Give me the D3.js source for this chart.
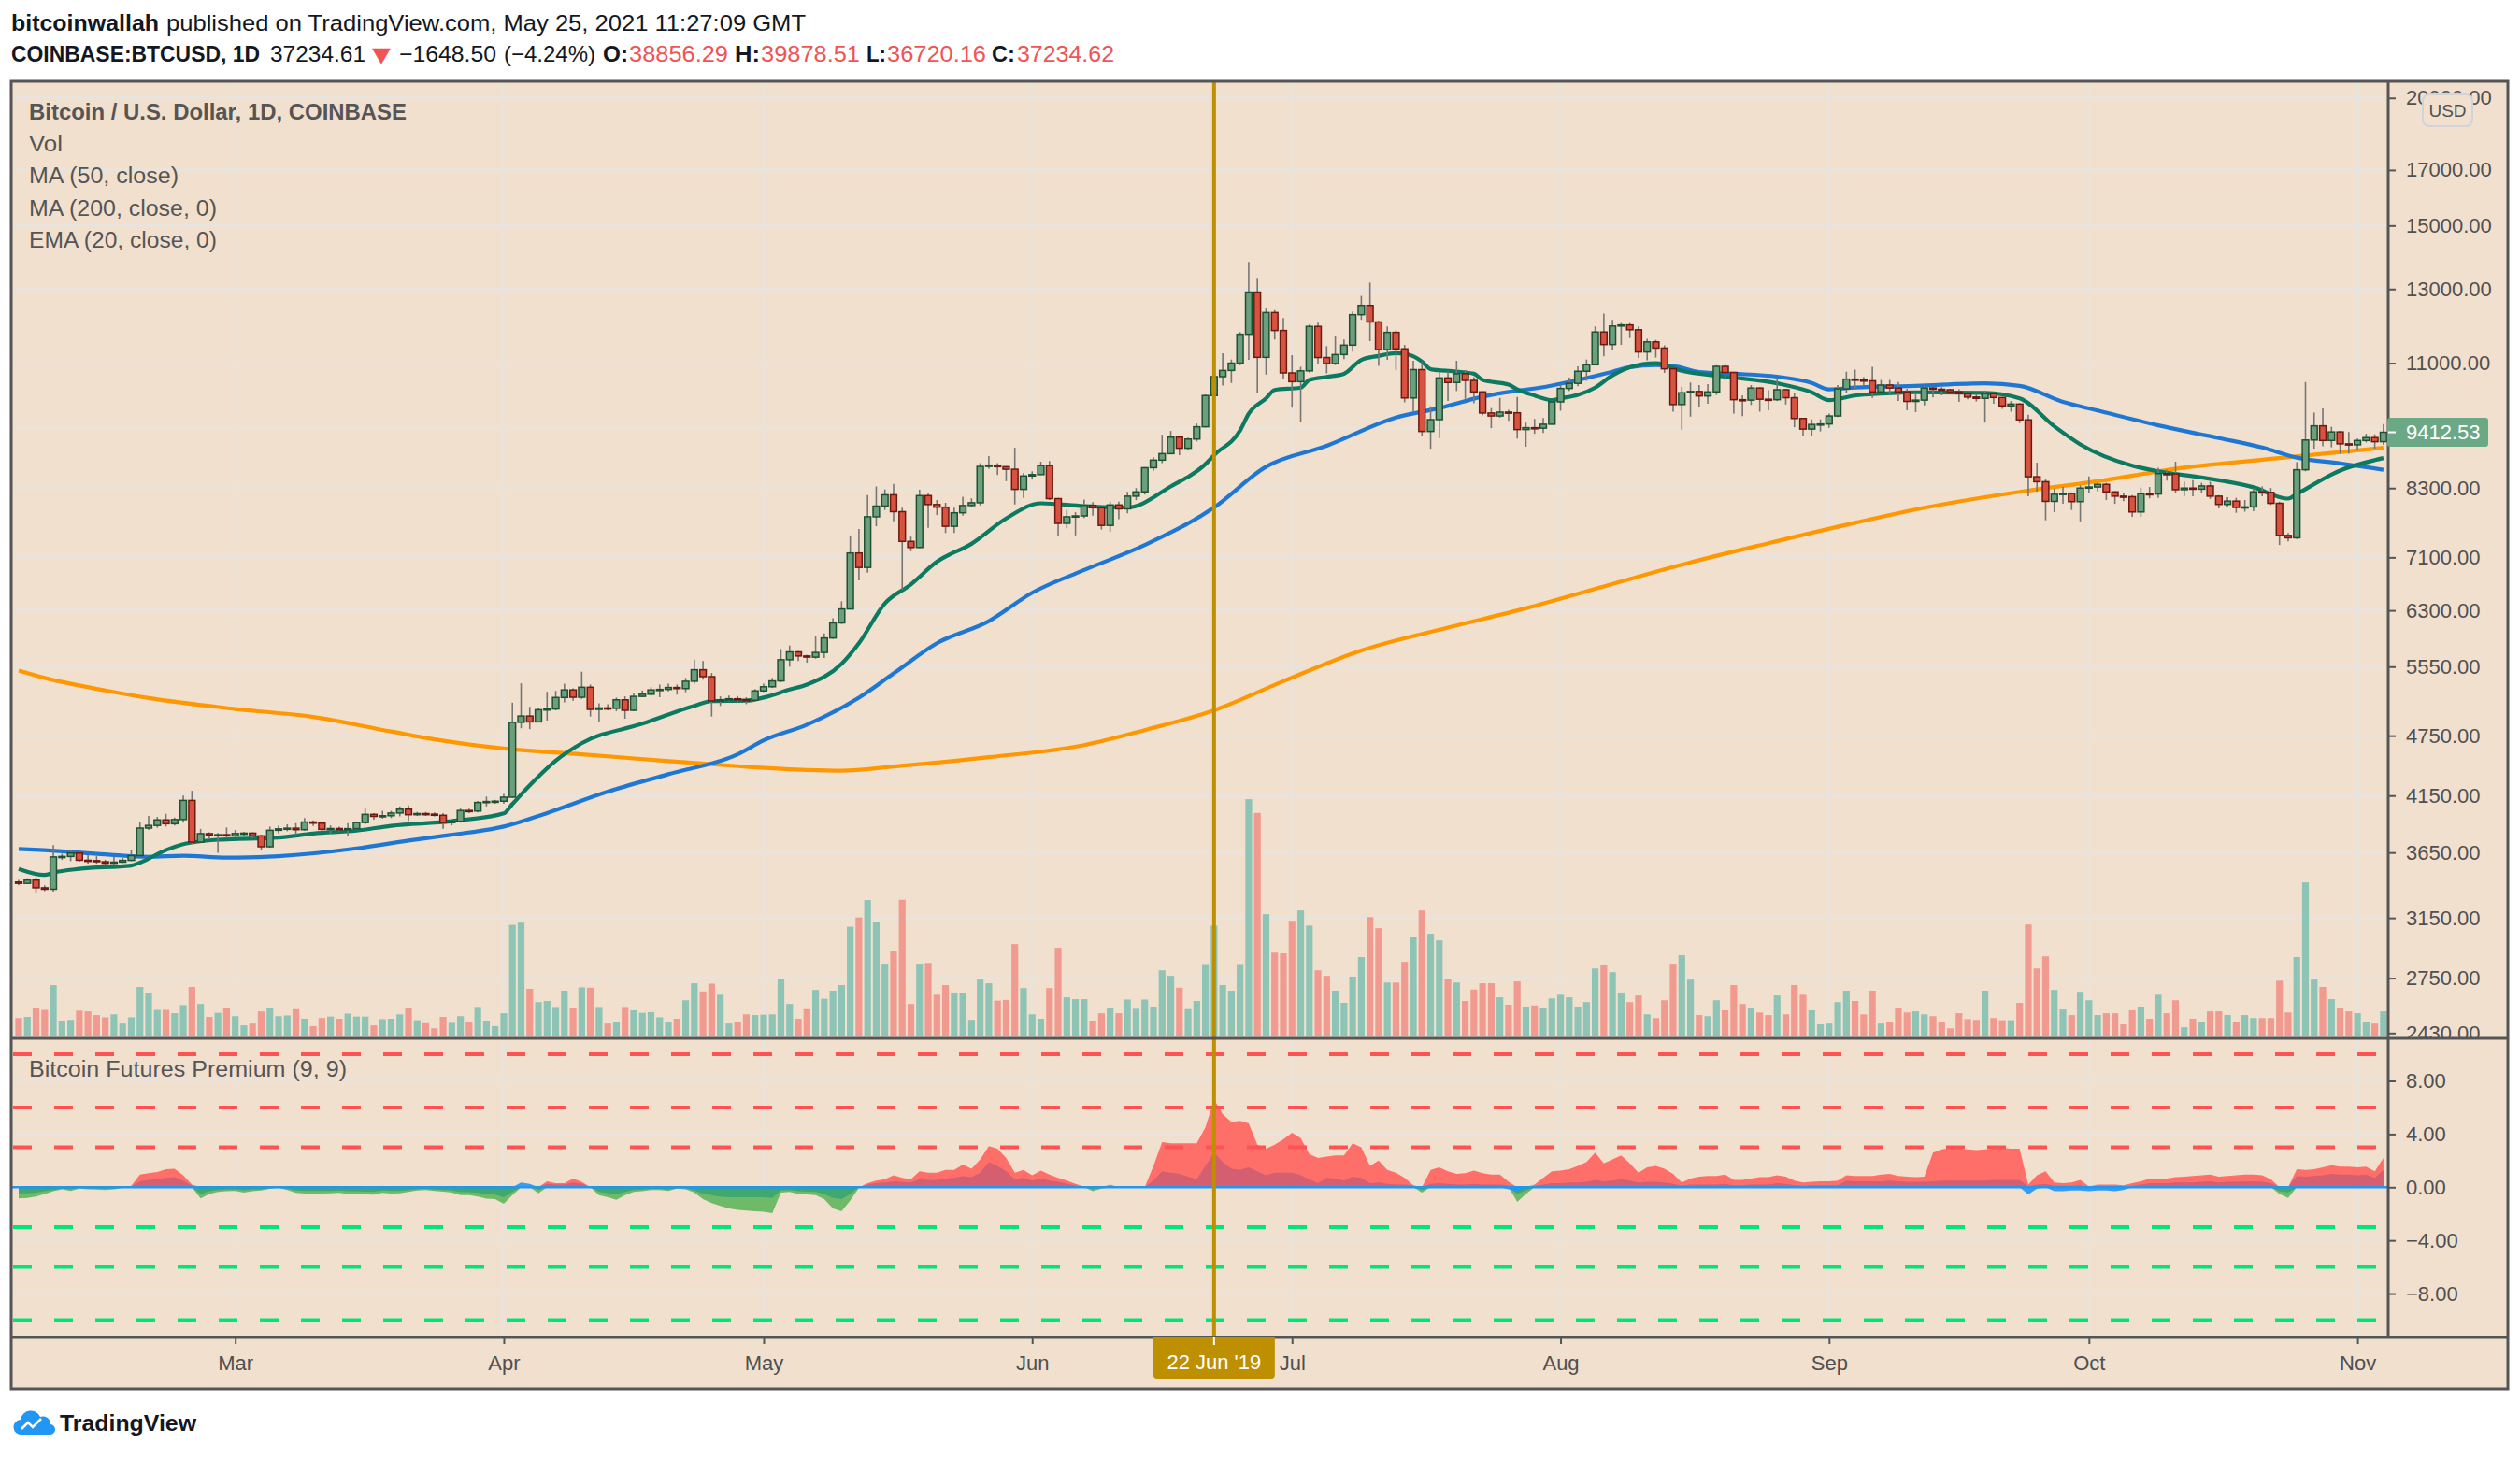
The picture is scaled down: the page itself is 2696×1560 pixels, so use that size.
<!DOCTYPE html>
<html><head><meta charset="utf-8">
<script src="https://cdn.jsdelivr.net/npm/d3@7"></script>
<style>html,body{margin:0;padding:0;background:#fff;}svg{display:block;}</style>
</head><body>
<svg id="chart" width="2696" height="1560"></svg>
<script>
// ---------------- DATA (BTC/USD daily, Coinbase, 4 Feb 2019 -> 4 Nov 2019) ----------------
const startDay = "2019-02-04";
const open = [3415,3405,3430,3371,3360,3614,3618,3646,3587,3584,
3575,3563,3572,3586,3625,3857,3880,3929,3895,3932,
4105,3737,3809,3795,3800,3790,3810,3813,3790,3698,
3838,3850,3856,3843,3910,3900,3846,3853,3848,3852,
3905,3978,3960,3966,3990,4025,3975,3985,3980,3970,
3905,3916,4013,4008,4086,4095,4098,4135,4895,4965,
4900,5036,5045,5177,5266,5180,5298,5040,5057,5052,
5150,5030,5190,5215,5266,5272,5295,5282,5370,5511,
5426,5138,5150,5162,5152,5145,5255,5304,5374,5637,
5737,5685,5670,5730,5920,6125,6320,7170,6940,7780,
7970,8175,7870,7360,7260,8160,7998,7950,7615,7850,
7980,8030,8715,8740,8710,8660,8276,8530,8556,8732,
8105,7665,7780,7795,7983,7940,7630,7990,7920,8150,
8230,8690,8840,8970,9310,9080,9270,9530,10225,10670,
10820,11000,11740,12910,11145,12330,11840,10760,10550,10810,
11950,11140,10990,11215,11455,12270,12530,12070,11340,11790,
11360,10170,10840,9430,9685,10640,10530,10740,10580,10310,
9830,9765,9850,9835,9470,9510,9500,9585,10080,10390,
10510,10800,10960,11800,11470,11960,11990,11860,11280,11540,
11380,10860,10020,10290,10320,10215,10310,10920,10770,10130,
10120,10400,10140,10130,10360,10175,9710,9480,9580,9590,
9765,10380,10610,10590,10570,10310,10470,10400,10310,10090,
10120,10400,10370,10360,10310,10270,10190,10160,10270,10180,
9990,10030,9680,8515,8420,8055,8185,8200,8050,8300,
8320,8370,8230,8150,8140,7865,8195,8190,8575,8570,
8270,8300,8280,8340,8150,8000,8060,7945,7955,8230,
8220,8020,7460,7420,8650,9250,9550,9240,9420,9170,
9150,9240,9300,9215];
const high = [3432,3445,3450,3390,3711,3640,3668,3660,3630,3620,
3590,3615,3605,3670,3908,3964,3955,3983,3950,4150,
4195,3850,3820,3815,3862,3840,3825,3820,3800,3870,
3880,3890,3900,3945,3925,3910,3880,3870,3900,3915,
4037,3990,4010,4010,4050,4060,4000,4000,3995,3990,
3925,4030,4030,4100,4140,4110,4165,5117,5345,5070,
5060,5244,5255,5340,5285,5487,5330,5110,5100,5175,
5190,5230,5260,5300,5330,5340,5330,5410,5640,5620,
5470,5190,5200,5195,5180,5275,5340,5410,5775,5820,
5750,5700,5940,5980,6190,6430,7460,7570,8170,8330,
8275,8380,7940,7440,8270,8200,8080,8030,7940,8140,
8110,8780,8920,8780,8720,9090,8590,8620,8810,8820,
8120,7900,7860,8090,8040,7950,8050,8050,8230,8300,
8700,8900,9360,9440,9320,9300,9600,10250,11200,11250,
11090,11800,13820,13330,12440,12400,12180,11200,10910,12000,
12050,11430,11700,11600,12360,12800,13190,12100,11950,11840,
11460,11060,11030,9980,10780,10800,11060,10830,10660,10330,
9940,10170,9900,10190,9620,9700,9720,10110,10490,10650,
10920,11090,11950,12300,12130,12040,12040,11950,11620,11590,
11450,10870,10430,10530,10470,10490,10950,10960,10780,10230,
10470,10420,10350,10640,10380,10280,9720,9690,9690,9820,
10470,10790,10840,10660,10910,10590,10590,10540,10380,10300,
10450,10440,10420,10380,10370,10290,10260,10340,10290,10190,
10100,10050,9790,8790,8460,8290,8320,8220,8350,8520,
8400,8400,8240,8200,8170,8310,8320,8690,8650,8810,
8420,8450,8400,8420,8170,8130,8120,8080,8300,8330,
8300,8050,7500,8800,10540,9840,9930,9530,9440,9420,
9280,9380,9370,9590];
const low = [3390,3400,3336,3345,3343,3590,3580,3575,3560,3560,
3545,3555,3565,3580,3615,3840,3860,3870,3880,3905,
3720,3730,3760,3648,3770,3780,3785,3770,3670,3690,
3810,3830,3800,3835,3875,3830,3810,3830,3790,3840,
3890,3930,3940,3945,3960,3920,3965,3965,3960,3850,
3880,3905,3990,3995,4050,4075,4075,4130,4830,4820,
4895,4915,5030,5120,5140,5160,4960,4903,5030,5020,
4935,5020,5180,5200,5180,5250,5210,5240,5340,5390,
4960,5080,5130,5120,5100,5130,5240,5290,5360,5550,
5620,5600,5650,5660,5910,6110,6320,6740,6860,7615,
7900,7700,6600,7200,7250,7590,7810,7500,7500,7800,
7960,7980,8670,8550,8430,8000,8120,8460,8550,8080,
7450,7580,7460,7760,7800,7560,7520,7740,7840,8080,
8180,8630,8780,8960,8940,9050,9220,9520,10060,10460,
10520,10950,11080,10280,10720,11600,10620,9950,9640,10770,
10990,10750,10950,11100,11290,12130,11560,10930,11080,10830,
10070,9870,9340,9070,9290,10100,10330,10150,10050,9780,
9500,9730,9660,9280,9110,9380,9400,9580,9880,10330,
10440,10570,10950,11170,11340,11460,11640,11130,11070,11140,
10760,9860,9470,9750,9970,10040,10240,10590,9820,9760,
10010,9860,9890,10100,10020,9520,9330,9340,9430,9510,
9740,10280,10360,10450,10170,10290,10240,10100,9890,9850,
10000,10180,10230,10270,10080,10140,10090,9620,10040,9920,
9860,9610,8150,8230,7720,7860,8010,7900,7700,8200,
8240,8080,8010,8060,7780,7780,8110,8120,8440,8210,
8150,8150,8210,8100,7930,7950,7850,7870,7880,8150,
7990,7300,7360,7400,8620,9070,9120,9100,8970,8970,
9050,9200,9070,9150];
const close = [3405,3430,3371,3360,3614,3618,3646,3587,3584,3575,
3563,3572,3586,3625,3857,3880,3929,3895,3932,4105,
3737,3809,3795,3800,3790,3810,3813,3790,3698,3838,
3850,3856,3843,3910,3900,3846,3853,3848,3852,3905,
3978,3960,3966,3990,4025,3975,3985,3980,3970,3905,
3916,4013,4008,4086,4095,4098,4135,4895,4965,4900,
5036,5045,5177,5266,5180,5298,5040,5057,5052,5150,
5030,5190,5215,5266,5272,5295,5282,5370,5511,5426,
5138,5150,5162,5152,5145,5255,5304,5374,5637,5737,
5685,5670,5730,5920,6125,6320,7170,6940,7780,7970,
8175,7870,7360,7260,8160,7998,7950,7615,7850,7980,
8030,8715,8740,8710,8660,8276,8530,8556,8732,8105,
7665,7780,7795,7983,7940,7630,7990,7920,8150,8230,
8690,8840,8970,9310,9080,9270,9530,10225,10670,10820,
11000,11740,12910,11145,12330,11840,10760,10550,10810,11950,
11140,10990,11215,11455,12270,12530,12070,11340,11790,11360,
10170,10840,9430,9685,10640,10530,10740,10580,10310,9830,
9765,9850,9835,9470,9510,9500,9585,10080,10390,10510,
10800,10960,11800,11470,11960,11990,11860,11280,11540,11380,
10860,10020,10290,10320,10215,10310,10920,10770,10130,10120,
10400,10140,10130,10360,10175,9710,9480,9580,9590,9765,
10380,10610,10590,10570,10310,10470,10400,10310,10090,10120,
10400,10370,10360,10310,10270,10190,10160,10270,10180,9990,
10030,9680,8515,8420,8055,8185,8200,8050,8300,8320,
8370,8230,8150,8140,7865,8195,8190,8575,8570,8270,
8300,8280,8340,8150,8000,8060,7945,7955,8230,8220,
8020,7460,7420,8650,9250,9550,9240,9420,9170,9150,
9240,9300,9215,9412.53];
// volume (thousand BTC)
const volume = [5.0,5.3,7.8,7.2,13.9,4.3,4.5,7.0,6.8,5.8,
5.2,6.0,3.5,5.2,13.4,11.8,7.2,7.2,6.3,8.5,
13.4,8.8,5.3,6.4,7.8,5.5,3.0,3.5,6.8,7.6,
5.5,5.7,7.4,4.8,2.8,5.0,5.4,4.8,6.2,5.4,
5.4,3.0,4.7,4.8,6.0,7.6,4.4,3.6,2.2,5.3,
3.7,5.5,3.9,8.0,4.3,2.8,6.3,30.2,30.8,12.9,
9.3,9.6,8.0,12.4,7.8,13.3,13.2,8.0,3.5,3.8,
8.0,7.1,6.4,6.6,5.2,4.0,4.8,9.8,14.4,12.2,
14.3,11.3,3.5,4.0,6.0,5.8,5.9,6.0,15.6,8.8,
4.8,7.4,12.6,10.2,12.4,13.9,29.7,32.2,36.9,31.1,
19.7,23.2,37.0,8.8,19.7,19.9,11.3,13.9,11.9,11.7,
4.5,15.4,14.4,9.7,9.9,25.0,13.1,6.0,4.8,13.1,
24.0,10.6,10.1,10.1,4.3,6.3,7.8,6.3,10.0,7.5,
10.0,8.1,17.9,16.4,13.2,7.4,9.6,19.6,30.0,13.9,
12.4,19.6,64.2,60.5,33.1,22.7,22.5,31.3,34.1,30.0,
17.9,16.4,12.4,9.1,16.2,21.5,32.3,29.3,14.6,14.6,
20.2,26.8,34.1,27.8,26.0,15.6,14.6,9.6,12.7,14.4,
14.4,10.6,8.6,14.9,8.1,8.4,7.7,10.3,11.3,10.6,
8.1,9.3,18.4,19.4,17.4,11.9,9.3,11.1,6.0,5.0,
9.8,19.7,22.0,15.4,5.8,5.5,9.8,7.1,13.9,8.8,
7.6,6.5,5.8,11.1,6.0,13.9,11.3,7.1,3.3,3.5,
9.3,12.4,9.6,6.0,12.4,3.5,4.0,7.8,6.5,6.8,
6.0,5.5,3.8,2.2,6.3,4.7,4.5,12.4,5.0,4.4,
4.4,9.1,30.3,18.4,21.7,12.6,7.3,5.8,12.1,9.8,
5.8,6.3,6.3,3.3,7.1,8.1,4.8,11.3,6.3,9.8,
2.5,4.8,3.8,6.8,6.8,5.8,4.0,5.8,5.0,5.0,
5.0,15.1,6.5,21.5,41.7,15.4,13.4,10.1,7.8,6.8,
6.3,3.8,3.5,6.8];
// moving averages (day index -> value)
const ma200Idx = [0,3,10,15,25,34,43,48,56,65,75,83,91,95,101,112,123,130,138,146,155,165,174,183,193,202,212,220,231,240,250,261,273];
const ma200Val = [5500,5410,5260,5170,5045,4955,4795,4710,4615,4555,4486,4435,4397,4390,4431,4525,4650,4810,5030,5370,5755,6060,6330,6650,7020,7330,7675,7940,8230,8430,8690,8880,9090];
const ma50Idx = [0,3,10,15,19,24,30,39,45,50,56,61,68,75,83,86,91,97,101,106,112,117,123,130,138,144,151,159,164,169,177,184,186,189,191,194,198,203,207,209,212,219,227,231,236,240,247,254,259,263,268,273];
const ma50Val = [3680,3670,3635,3615,3624,3608,3620,3684,3750,3800,3870,3990,4187,4355,4555,4700,4870,5175,5465,5850,6150,6555,6900,7300,7945,8710,9130,9730,9940,10200,10460,10790,10900,10950,10930,10780,10740,10670,10520,10370,10410,10450,10510,10450,10080,9885,9560,9290,9095,8890,8775,8650];
const emaIdx = [0,3,4,7,13,14,17,19,20,23,30,34,39,43,50,56,57,59,62,65,72,78,80,84,86,89,91,95,97,100,103,106,110,114,118,123,128,133,137,138,141,142,144,145,148,149,151,153,155,157,159,160,162,163,166,168,169,172,173,175,177,178,180,182,184,186,189,192,197,203,207,209,212,215,219,227,231,235,238,244,247,252,258,262,263,268,273];
const emaVal = [3518,3470,3488,3518,3545,3568,3670,3720,3733,3757,3775,3810,3835,3877,3918,3987,4072,4247,4490,4670,4880,5080,5135,5140,5176,5270,5330,5585,5850,6400,6680,7030,7320,7750,8020,7970,7945,8330,8760,8940,9450,9815,10160,10355,10410,10590,10665,10740,11080,11180,11250,11235,11040,10850,10795,10740,10590,10480,10370,10225,10120,10160,10240,10410,10700,10900,11000,10810,10670,10510,10300,10120,10225,10270,10300,10285,10160,9540,9160,8730,8620,8500,8315,8105,8190,8635,8880];
// Bitcoin Futures Premium (9, 9): two plotted series + small blue segments
const premA = [-0.84,-0.8,-0.7,-0.5,-0.3,-0.15,-0.28,-0.1,-0.15,-0.18,
-0.2,-0.15,-0.05,0.1,0.95,1.05,1.15,1.35,1.4,0.9,
0.2,-0.84,-0.5,-0.35,-0.3,-0.28,-0.4,-0.3,-0.25,-0.12,
-0.05,-0.2,-0.42,-0.47,-0.47,-0.47,-0.45,-0.42,-0.5,-0.5,
-0.55,-0.56,-0.42,-0.47,-0.45,-0.35,-0.25,-0.2,-0.28,-0.33,
-0.4,-0.6,-0.6,-0.7,-0.85,-0.9,-1.25,-0.6,0,0,
-0.45,0.45,0.3,0.3,0.65,0.4,0,-0.6,-0.75,-0.95,
-0.6,-0.35,-0.3,-0.2,-0.2,-0.28,-0.1,-0.15,-0.4,-0.9,
-1.2,-1.4,-1.6,-1.7,-1.75,-1.8,-1.85,-1.95,-0.4,-0.35,
-0.5,-0.55,-0.6,-0.9,-1.6,-1.8,-1.0,-0.05,0.3,0.5,
0.6,0.9,0.7,0.6,1.2,1.1,1.1,1.3,1.3,1.7,
1.4,2.1,3.1,2.9,2.2,1.1,1.3,0.9,1.25,0.95,
0.7,0.5,0.25,0.05,-0.3,-0.1,0.2,-0.05,-0.05,0,
0,1.6,3.4,3.3,3.3,3.3,3.3,4.5,6.6,5.5,
4.9,5.0,4.8,3.2,2.9,3.2,3.6,4.1,3.7,2.5,
2.2,2.3,2.4,2.4,3.3,3.0,1.6,2.0,1.3,1.1,
0.7,0.15,-0.4,1.3,1.5,1.2,1.0,1.05,1.25,1.05,
0.95,0.95,0.4,-1.1,-0.5,0.2,0.7,1.2,1.25,1.35,
1.6,1.9,2.6,1.8,2.1,2.4,1.8,1.1,1.5,1.6,
1.4,1.0,0.35,0.65,0.8,0.85,0.85,0.95,0.55,0.55,
0.65,0.75,0.75,0.9,0.8,0.5,0.35,0.4,0.45,0.45,
0.5,0.9,0.85,0.85,0.85,0.95,1.0,0.85,0.8,0.75,
0.8,2.6,2.85,2.95,2.9,2.85,2.8,2.85,2.9,2.95,
2.9,2.9,0.2,0.9,1.2,0.35,0.3,0.35,0.55,0.05,
0.2,0.2,0.2,0.15,0.3,0.45,0.65,0.65,0.65,0.75,
0.8,0.85,0.9,0.95,0.8,0.85,0.9,0.95,0.95,0.9,
0.6,-0.5,-0.8,1.35,1.3,1.35,1.5,1.65,1.55,1.55,
1.5,1.55,1.2,2.2];
const premB = [-0.45,-0.45,-0.4,-0.3,-0.2,-0.1,-0.15,-0.05,-0.1,-0.1,
-0.12,-0.1,-0.03,0.05,0.45,0.55,0.6,0.7,0.75,0.5,
0.1,-0.5,-0.3,-0.2,-0.18,-0.15,-0.22,-0.18,-0.15,-0.07,
-0.03,-0.12,-0.25,-0.28,-0.28,-0.28,-0.27,-0.25,-0.3,-0.3,
-0.33,-0.33,-0.25,-0.28,-0.27,-0.2,-0.15,-0.12,-0.17,-0.2,
-0.24,-0.36,-0.36,-0.42,-0.5,-0.55,-0.75,-0.35,0,0,
-0.2,0.25,0.2,0.2,0.35,0.25,0,-0.35,-0.45,-0.55,
-0.35,-0.2,-0.18,-0.12,-0.12,-0.17,-0.06,-0.09,-0.25,-0.5,
-0.6,-0.7,-0.75,-0.75,-0.75,-0.75,-0.75,-0.8,-0.25,-0.2,
-0.3,-0.33,-0.35,-0.5,-0.8,-0.9,-0.5,0,0.2,0.3,
0.35,0.45,0.4,0.35,0.6,0.55,0.55,0.65,0.7,0.85,
0.75,1.1,1.9,1.6,1.2,0.6,0.7,0.5,0.65,0.5,
0.4,0.25,0.12,0,-0.15,-0.05,0.1,0,0,0,
0,0.5,1.2,1.1,1.0,0.8,0.6,1.6,2.6,1.9,
1.4,1.3,1.5,1.2,0.9,1.1,1.1,1.1,0.9,0.6,
0.3,0.7,0.65,0.5,0.8,0.7,0.3,0.35,0.25,0.2,
0.2,0.1,-0.2,0.25,0.3,0.25,0.2,0.2,0.25,0.2,
0.2,0.2,0.1,-0.5,-0.25,0.1,0.2,0.3,0.3,0.35,
0.35,0.4,0.55,0.45,0.5,0.6,0.5,0.35,0.4,0.4,
0.35,0.25,0.1,0.2,0.2,0.2,0.2,0.25,0.15,0.15,
0.2,0.2,0.2,0.3,0.25,0.15,0.1,0.15,0.15,0.15,
0.15,0.5,0.45,0.45,0.45,0.45,0.5,0.45,0.4,0.4,
0.4,0.45,0.5,0.5,0.5,0.5,0.5,0.5,0.55,0.55,
0.55,0.55,0.05,0.2,0.25,0.1,0.1,0.1,0.15,0,
0.05,0.05,0.05,0.05,0.1,0.2,0.3,0.3,0.3,0.35,
0.35,0.35,0.4,0.45,0.35,0.4,0.4,0.45,0.45,0.4,
0.3,-0.3,-0.4,0.85,0.8,0.85,0.9,1.0,0.95,0.95,
0.9,0.95,0.7,1.3];
const blueIdx = [58,59,78,172,173,232,233,235,236,237,238,239,240,241,242,243];
const blueVal = [0.35,0.25,-0.15,-0.15,-0.35,-0.55,-0.1,-0.3,-0.3,-0.25,-0.25,-0.3,-0.25,-0.25,-0.3,-0.2];
// axis ticks / levels
const priceTicks = [20000,17000,15000,13000,11000,9500,8300,7100,6300,5550,4750,4150,3650,3150,2750,2430];
const premTicks = [8,4,0,-4,-8];
const premUpper = [10,6,3];
const premLower = [-3,-6,-10];
const crosshairDay = "2019-06-22";
const crosshairLabel = "22 Jun '19";
const legendLines = ["Vol","MA (50, close)","MA (200, close, 0)","EMA (20, close, 0)"];

// ---------------- LAYOUT ----------------
const W = 2696, H = 1560;
const FL = 12, FR = 2683, FT = 87, FB = 1486, AX = 2555, PB = 1111, LB = 1431, VB = 1109;
const FONT = "'Liberation Sans', Arial, sans-serif";
const C = {
  bg: "#f2e0cf", grid: "#e7e3df", frame: "#555555", text: "#505050",
  upFill: "#6b9f7e", upLine: "#1e5134", dnFill: "#d8523f", dnLine: "#6b1a12", wick: "#767676",
  volUp: "#8dc4b5", volDn: "#f19a8f",
  ema: "#0b7a60", ma50: "#1f77d4", ma200: "#ff9800",
  premUp: "#ff6f69", premDn: "#6fba68", premUp2: "#d35f70", premDn2: "#3fa772", blue: "#2196f3",
  dashR: "#ff5252", dashG: "#00e676", cross: "#be8f00", last: "#6ba886",
  head: "#131722", red: "#f05454"
};

const parse = d3.utcParse("%Y-%m-%d");
const start = parse(startDay);
const n = close.length;
const dates = close.map((_, i) => d3.utcDay.offset(start, i));
const x = d3.scaleUtc().domain([start, dates[n - 1]]).range([20, 2549.9]);
const yP = d3.scaleLog().domain([2401, 20763]).range([PB, FT]);
const yV = d3.scaleLinear().domain([0, 100]).range([VB, VB - 395.4]);
const yL = d3.scaleLinear().domain([-11.3, 11.2]).range([LB, PB]);

const svg = d3.select("#chart");
const defs = svg.append("defs");
defs.append("clipPath").attr("id", "clipP").append("rect").attr("x", FL).attr("y", FT).attr("width", AX - FL).attr("height", PB - FT);
defs.append("clipPath").attr("id", "clipL").append("rect").attr("x", FL).attr("y", PB).attr("width", AX - FL).attr("height", LB - PB);
defs.append("clipPath").attr("id", "clipAx").append("rect").attr("x", AX).attr("y", FT).attr("width", FR - AX).attr("height", PB - FT);

svg.append("rect").attr("width", W).attr("height", H).attr("fill", "#ffffff");
svg.append("rect").attr("x", FL).attr("y", FT).attr("width", FR - FL).attr("height", FB - FT).attr("fill", C.bg);

// ---------------- GRID ----------------
const months = d3.utcMonth.range(d3.utcMonth.ceil(start), dates[n - 1]);
const grid = svg.append("g").attr("stroke", C.grid).attr("stroke-width", 2.5);
grid.selectAll("line.v").data(months).join("line")
  .attr("x1", d => x(d)).attr("x2", d => x(d)).attr("y1", FT).attr("y2", LB);
grid.selectAll("line.hp").data(priceTicks).join("line")
  .attr("x1", FL).attr("x2", AX).attr("y1", d => yP(d)).attr("y2", d => yP(d));
grid.selectAll("line.hl").data(premTicks).join("line")
  .attr("x1", FL).attr("x2", AX).attr("y1", d => yL(d)).attr("y2", d => yL(d));

// ---------------- PRICE PANE ----------------
const pp = svg.append("g").attr("clip-path", "url(#clipP)");
const bw = 7.2;
pp.append("g").selectAll("rect").data(d3.range(n)).join("rect")
  .attr("x", i => x(dates[i]) - bw / 2).attr("width", bw)
  .attr("y", i => yV(volume[i])).attr("height", i => VB - yV(volume[i]))
  .attr("fill", i => close[i] >= open[i] ? C.volUp : C.volDn);

function maLine(idx, val, color) {
  const pts = idx.map((d, k) => [x(dates[d]), yP(val[k])]);
  pp.append("path").attr("d", d3.line().curve(d3.curveMonotoneX)(pts))
    .attr("fill", "none").attr("stroke", color).attr("stroke-width", 4.2).attr("stroke-linejoin", "round");
}
maLine(ma200Idx, ma200Val, C.ma200);
maLine(ma50Idx, ma50Val, C.ma50);
maLine(emaIdx, emaVal, C.ema);

const cg = pp.append("g");
cg.selectAll("line").data(d3.range(n)).join("line")
  .attr("x1", i => x(dates[i])).attr("x2", i => x(dates[i]))
  .attr("y1", i => yP(high[i])).attr("y2", i => yP(low[i]))
  .attr("stroke", C.wick).attr("stroke-width", 1.6);
cg.selectAll("rect").data(d3.range(n)).join("rect")
  .attr("x", i => x(dates[i]) - 3.4).attr("width", 6.8)
  .attr("y", i => yP(Math.max(open[i], close[i])))
  .attr("height", i => Math.max(1.2, yP(Math.min(open[i], close[i])) - yP(Math.max(open[i], close[i]))))
  .attr("fill", i => close[i] >= open[i] ? C.upFill : C.dnFill)
  .attr("stroke", i => close[i] >= open[i] ? C.upLine : C.dnLine)
  .attr("stroke-width", 1.5);

// ---------------- PREMIUM PANE ----------------
const lp = svg.append("g").attr("clip-path", "url(#clipL)");
function signedArea(vals, pos, neg) {
  const ptsPos = vals.map((v, i) => [x(dates[i]), yL(Math.max(v, 0))]);
  const ptsNeg = vals.map((v, i) => [x(dates[i]), yL(Math.min(v, 0))]);
  const a = d3.area().x(d => d[0]).y0(yL(0)).y1(d => d[1]);
  lp.append("path").attr("d", a(ptsPos)).attr("fill", pos);
  lp.append("path").attr("d", a(ptsNeg)).attr("fill", neg);
}
signedArea(premA, C.premUp, C.premDn);
signedArea(premB, C.premUp2, C.premDn2);
// blue segments
const runs = [];
blueIdx.forEach((d, k) => {
  const last = runs[runs.length - 1];
  if (last && d === last[last.length - 1][0] + 1) last.push([d, blueVal[k]]);
  else runs.push([[d, blueVal[k]]]);
});
runs.forEach(r => {
  const pts = [[r[0][0] - 1, 0], ...r, [r[r.length - 1][0] + 1, 0]];
  lp.append("path").attr("d", d3.area().x(d => x(dates[Math.min(d[0], n - 1)])).y0(yL(0)).y1(d => yL(d[1]))(pts))
    .attr("fill", C.blue).attr("opacity", 0.9);
});
function dashLevel(v, color) {
  lp.append("line").attr("x1", FL + 2).attr("x2", AX).attr("y1", yL(v)).attr("y2", yL(v))
    .attr("stroke", color).attr("stroke-width", 4).attr("stroke-dasharray", "20,24");
}
premUpper.forEach(v => dashLevel(v, C.dashR));
premLower.forEach(v => dashLevel(v, C.dashG));
lp.append("line").attr("x1", FL).attr("x2", AX).attr("y1", yL(0)).attr("y2", yL(0))
  .attr("stroke", C.blue).attr("stroke-width", 2.6);

// ---------------- CROSSHAIR ----------------
const cx = x(parse(crosshairDay));
svg.append("line").attr("x1", cx).attr("x2", cx).attr("y1", FT).attr("y2", LB)
  .attr("stroke", C.cross).attr("stroke-width", 4);

// ---------------- AXES ----------------
const axPWrap = svg.append("g").attr("clip-path", "url(#clipAx)");
const axP = axPWrap.append("g").attr("transform", `translate(${AX},0)`)
  .call(d3.axisRight(yP).tickValues(priceTicks).tickFormat(d3.format(".2f")).tickSize(8).tickPadding(11));
const axL = svg.append("g").attr("transform", `translate(${AX},0)`)
  .call(d3.axisRight(yL).tickValues(premTicks).tickFormat(d3.format(".2f")).tickSize(8).tickPadding(11));
const axT = svg.append("g").attr("transform", `translate(0,${LB})`)
  .call(d3.axisBottom(x).tickValues(months).tickFormat(d3.utcFormat("%b")).tickSize(7).tickPadding(12));
[axP, axL, axT].forEach(g => {
  g.select(".domain").remove();
  g.selectAll(".tick line").attr("stroke", C.frame).attr("stroke-width", 2);
  g.selectAll(".tick text").attr("fill", C.text).attr("font-family", FONT).attr("font-size", 22);
});

// ---------------- FRAME ----------------
const fr = svg.append("g").attr("stroke", C.frame).attr("stroke-width", 3).attr("fill", "none");
fr.append("rect").attr("x", FL).attr("y", FT).attr("width", FR - FL).attr("height", FB - FT);
fr.append("line").attr("x1", AX).attr("x2", AX).attr("y1", FT).attr("y2", LB);
fr.append("line").attr("x1", FL).attr("x2", FR).attr("y1", PB).attr("y2", PB);
fr.append("line").attr("x1", FL).attr("x2", FR).attr("y1", LB).attr("y2", LB);

// ---------------- LABELS ON AXES ----------------
const lastClose = close[n - 1];
const ly = yP(lastClose);
svg.append("rect").attr("x", AX - 1).attr("y", ly - 15.5).attr("width", 108).attr("height", 31).attr("rx", 3)
  .attr("fill", C.last);
svg.append("line").attr("x1", AX).attr("x2", AX + 8).attr("y1", ly).attr("y2", ly).attr("stroke", "#ffffff").attr("stroke-width", 2);
svg.append("text").attr("x", AX + 19).attr("y", ly).attr("dy", "0.35em").attr("fill", "#ffffff")
  .attr("font-family", FONT).attr("font-size", 22).text(d3.format(".2f")(lastClose));
svg.append("rect").attr("x", 2592).attr("y", 101).attr("width", 53).attr("height", 34).attr("rx", 7)
  .attr("fill", C.bg).attr("stroke", "#cfd3da").attr("stroke-width", 2);
svg.append("text").attr("x", 2618.5).attr("y", 118).attr("dy", "0.35em").attr("text-anchor", "middle")
  .attr("fill", C.text).attr("font-family", FONT).attr("font-size", 19).text("USD");
svg.append("path").attr("d", `M${cx - 65},${LB} h130 v40 a4,4 0 0 1 -4,4 h-122 a4,4 0 0 1 -4,-4 z`).attr("fill", C.cross);
svg.append("line").attr("x1", cx).attr("x2", cx).attr("y1", LB).attr("y2", LB + 8).attr("stroke", "#ffffff").attr("stroke-width", 2);
svg.append("text").attr("x", cx).attr("y", LB + 34).attr("text-anchor", "middle").attr("fill", "#ffffff")
  .attr("font-family", FONT).attr("font-size", 22).text(crosshairLabel);

// ---------------- LEGENDS ----------------
function txt(s, xx, yy, opts) {
  const t = svg.append("text").attr("x", xx).attr("y", yy).text(s)
    .attr("font-family", opts.family || FONT).attr("font-size", opts.size || 23)
    .attr("font-weight", opts.bold ? 700 : 400).attr("fill", opts.color || C.text);
  if (opts.w) t.attr("textLength", opts.w).attr("lengthAdjust", "spacingAndGlyphs");
  return t;
}
txt("Bitcoin / U.S. Dollar, 1D, COINBASE", 31, 128, { bold: true, w: 404, color: "#555555" });
const lw = [36, 160, 201, 201];
legendLines.forEach((s, k) => txt(s, 31, 162 + k * 34.3, { w: lw[k], color: "#555555" }));
txt("Bitcoin Futures Premium (9, 9)", 31, 1152, { w: 340, color: "#555555" });

// ---------------- HEADER ----------------
txt("bitcoinwallah", 12, 33, { bold: true, size: 24, w: 158, color: C.head });
txt("published on TradingView.com, May 25, 2021 11:27:09 GMT", 178, 33, { size: 24, w: 684, color: C.head });
const seg = [
  ["COINBASE:BTCUSD, 1D", 12, 266, true, C.head],
  ["37234.61", 289, 102, false, C.head],
  ["\u2212" + "1648.50", 427, 104, false, C.head],
  ["(\u2212" + "4.24%)", 539, 98, false, C.head],
  ["O:", 645, 27, true, C.head], ["38856.29", 673, 106, false, C.red],
  ["H:", 786, 27, true, C.head], ["39878.51", 814, 106, false, C.red],
  ["L:", 927, 21, true, C.head], ["36720.16", 949, 106, false, C.red],
  ["C:", 1061, 25, true, C.head], ["37234.62", 1088, 104, false, C.red]
];
seg.forEach(s => txt(s[0], s[1], 66, { bold: s[3], size: 24, w: s[2], color: s[4] }));
txt("\u25BC", 398, 66, { size: 22, w: 20, color: C.red, family: "'DejaVu Sans', sans-serif" });

// ---------------- LOGO ----------------
const logo = svg.append("g").attr("transform", "translate(14,1508)");
logo.append("path").attr("d", "M9,27 a8,8 0 0 1 -1,-16 a11,11 0 0 1 21,-3 a8,8 0 0 1 11,8 a5.5,5.5 0 0 1 -1,11 z").attr("fill", C.blue);
logo.append("polyline").attr("points", "9,21 16,14 21,19 30,10").attr("fill", "none").attr("stroke", "#ffffff").attr("stroke-width", 2.6);
txt("TradingView", 64, 1531, { size: 24, bold: true, w: 146, color: C.head });
</script>
</body></html>
